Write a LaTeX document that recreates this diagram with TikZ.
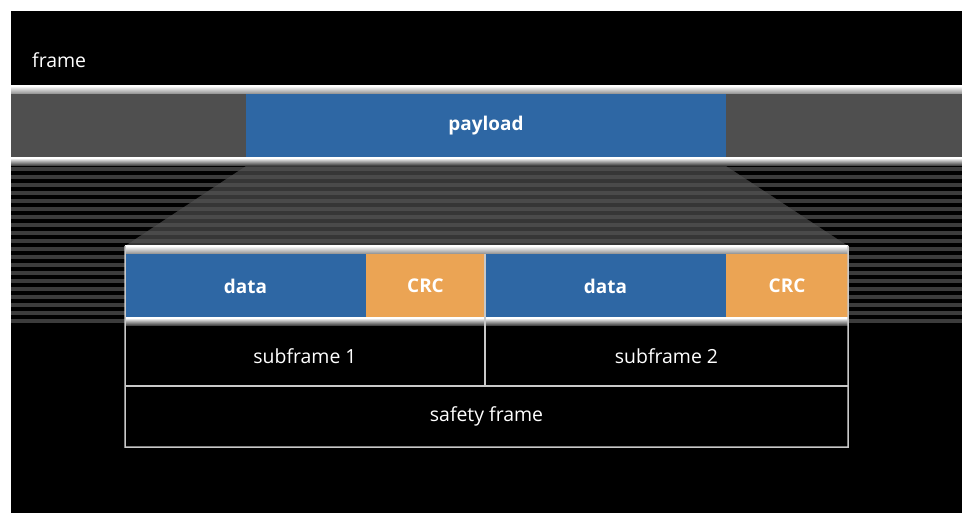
\documentclass[tikz,border=0pt]{standalone}
\usepackage{fontspec}
\setmainfont{Open Sans}
\definecolor{blueC}{HTML}{2E67A4}
\definecolor{orangeC}{HTML}{EBA454}
\definecolor{bandC}{HTML}{4F4F4F}
\definecolor{stripeC}{HTML}{3C3C3C}
\definecolor{trapC}{HTML}{363636}
\definecolor{trapStripeC}{HTML}{4A4A4A}
\definecolor{lineC}{HTML}{C8C8C8}
\begin{document}
\begin{tikzpicture}[x=1bp,y=-1bp,
  lbl/.style={font=\fontsize{19.5}{22}\selectfont, text=white},
  cell/.style={inner sep=0pt, outer sep=0pt, anchor=north west, text=white,
    font=\fontsize{19}{21}\selectfont\bfseries, minimum height=64bp},
  row/.style={inner sep=0pt, outer sep=0pt, anchor=north west, text=white,
    font=\fontsize{19.5}{22}\selectfont},
  ln/.style={draw=lineC, line width=1.5bp},
  hilite/.style={top color=white, bottom color=lineC!70!black},
  lowlite/.style={top color=white, bottom color=bandC!60!black},
]
\useasboundingbox (0,0) rectangle (962,513);
\fill[white] (0,0) rectangle (962,513);
\fill[black] (11,11) rectangle (962,513);

% frame label
\node[lbl, anchor=base west, inner sep=0pt] (framelbl) at (32,68) {frame};

% frame band
\shade[hilite] (11,86) rectangle (962,94);
\fill[bandC] (11,94) rectangle (962,158);
\node[cell, fill=blueC, minimum width=480bp] (payload) at (246,94) {payload};
\shade[lowlite] (11,158) rectangle (962,166);

% background stripes
\foreach \k in {0,...,19}
  \fill[stripeC] (11,{167+8*\k}) rectangle (962,{171+8*\k});

% trapezoid
\coordinate (ptl) at (246,166);
\coordinate (ptr) at (726,166);
\coordinate (sbr) at (848,246);
\coordinate (sbl) at (125,246);
\fill[trapC] (ptl) -- (ptr) -- (sbr) -- (sbl) -- cycle;
\begin{scope}
  \clip (ptl) -- (ptr) -- (sbr) -- (sbl) -- cycle;
  \foreach \k in {0,...,10}
    \fill[trapStripeC] (11,{167+8*\k}) rectangle (962,{171+8*\k});
\end{scope}

% safety frame structure
\fill[black] (125,246) rectangle (848,447);
\shade[hilite] (125,246) rectangle (848,254);
\node[cell, fill=blueC, minimum width=241bp] (data1) at (125,254) {data};
\node[cell, fill=orangeC, minimum width=119bp] (crc1) at (366,254) {CRC};
\node[cell, fill=blueC, minimum width=241bp] (data2) at (485,254) {data};
\node[cell, fill=orangeC, minimum width=122bp] (crc2) at (726,254) {CRC};
\shade[lowlite] (125,318) rectangle (848,326);

\node[row, minimum width=360bp, minimum height=60bp] (sub1) at (125,326) {subframe 1};
\node[row, minimum width=363bp, minimum height=60bp] (sub2) at (485,326) {subframe 2};
\node[row, minimum width=723bp, minimum height=61bp] (safety) at (125,386) {safety frame};

\coordinate (divtop) at (485,254);
\draw[ln] (sbl) -- (safety.south west) -- (safety.south east) -- (sbr);
\draw[ln] (safety.north west) -- (safety.north east);
\draw[ln] (divtop) -- (sub2.south west);
\end{tikzpicture}
\end{document}
